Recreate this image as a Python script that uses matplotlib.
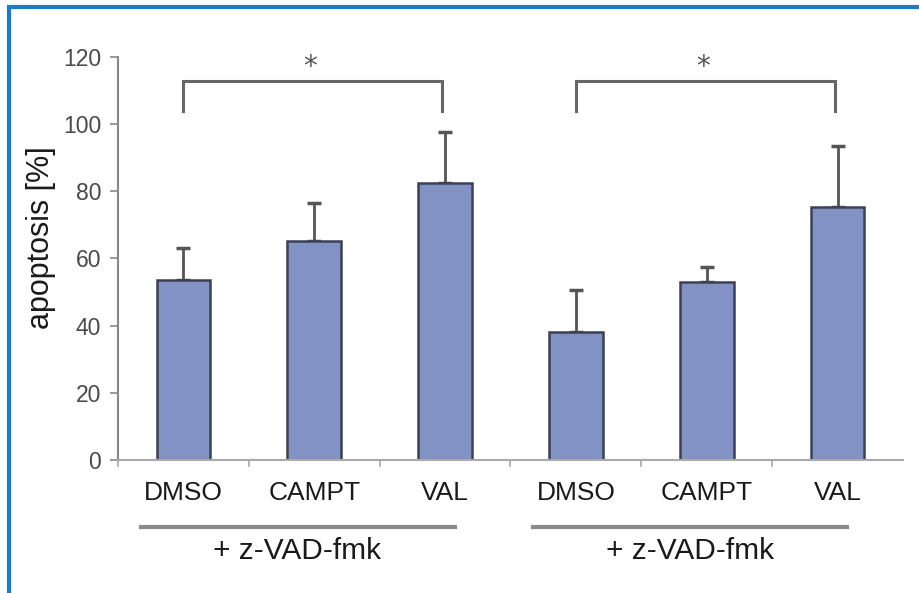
import matplotlib
matplotlib.use("Agg")
import matplotlib.pyplot as plt
from matplotlib.patches import Rectangle
import matplotlib.transforms as mtransforms

# Data
categories = ["DMSO", "CAMPT", "VAL", "DMSO", "CAMPT", "VAL"]
apoptosis = [53.6, 65.2, 82.4, 38.2, 52.9, 75.4]
errors = [9.5, 11.2, 15.3, 12.4, 4.6, 18.1]
group_labels = ["+ z-VAD-fmk", "+ z-VAD-fmk"]
y_ticks = [0, 20, 40, 60, 80, 100, 120]
# significance brackets: (left bar index, right bar index, label)
brackets = [(0, 2, "*"), (3, 5, "*")]

plt.rcParams["font.family"] = ["Liberation Sans", "DejaVu Sans"]

W, H = 920, 593
fig = plt.figure(figsize=(W / 100, H / 100), dpi=100)
fig.patch.set_facecolor("white")

ax = fig.add_axes([118 / W, 1 - 460 / H, 785 / W, (460 - 56.7) / H])
ax.set_facecolor("white")

x = list(range(len(categories)))
ax.bar(x, apoptosis, width=0.41, color="#8392c4", edgecolor="#3b4055",
       linewidth=1.8, zorder=2)
ax.errorbar(x, apoptosis, yerr=[[0] * len(errors), errors], fmt="none",
            ecolor="#555555", elinewidth=2, capsize=5, capthick=2.5, zorder=1)

ax.set_xlim(-0.5, 5.5)
ax.set_ylim(0, 120)
ax.set_yticks(y_ticks)
ax.set_yticklabels([str(t) for t in y_ticks], fontsize=16.5, color="#4a4a4a")
ax.set_xticks([i - 0.5 for i in x])
ax.set_xticklabels([])
ax.tick_params(axis="y", direction="out", length=6, width=1.2, color="#888888", pad=6)
ax.tick_params(axis="x", direction="out", length=5, width=1.2, color="#aaaaaa")

for side in ("top", "right"):
    ax.spines[side].set_visible(False)
ax.spines["left"].set_color("#888888")
ax.spines["left"].set_linewidth(1.5)
ax.spines["bottom"].set_color("#aaaaaa")
ax.spines["bottom"].set_linewidth(1.5)

# y-axis title placed in figure coordinates
fig.text(41 / W, 1 - 238 / H, "apoptosis [%]", rotation=90, ha="center",
         va="center", fontsize=22, color="#1a1a1a")

# category labels below the axis
trans_lab = mtransforms.blended_transform_factory(ax.transData, fig.transFigure)
for xi, name in zip(x, categories):
    ax.text(xi, 1 - 493 / H, name, transform=trans_lab, ha="center",
            va="center", fontsize=19, color="#1a1a1a")

# group underlines and group labels
for g, label in enumerate(group_labels):
    c = 3 * g + 1
    ax.plot([c - 1.34, c + 1.09], [1 - 527 / H] * 2, transform=trans_lab,
            color="#8a8a8a", lw=3, clip_on=False, solid_capstyle="butt")
    ax.text(c - 0.13, 1 - 551 / H, label, transform=trans_lab, ha="center",
            va="center", fontsize=21.5, color="#1a1a1a")

# significance brackets
for i0, i1, star in brackets:
    xl, xr = i0, i1 - 0.02
    ax.plot([xl, xl, xr, xr], [103.9, 112.8, 112.8, 103.9], color="#666666",
            lw=2.2, clip_on=False, solid_joinstyle="miter")
    ax.text((xl + xr) / 2 - 0.02, 117.0, star, ha="center", va="center",
            fontsize=20, color="#555555", family="DejaVu Sans")

# blue frame
fig.add_artist(Rectangle((8.5 / W, -0.1), 2.0, 1 - 6.5 / H + 0.1,
                         transform=fig.transFigure, fill=False,
                         edgecolor="#1a7cc8", linewidth=3))

fig.savefig("out.png", dpi=100, facecolor="white")
